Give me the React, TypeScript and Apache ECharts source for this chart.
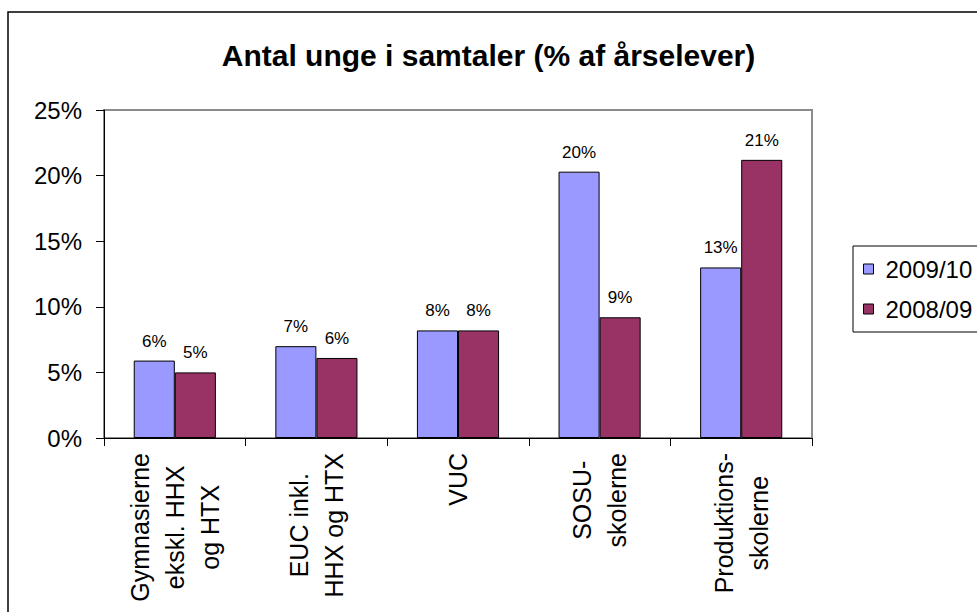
import React, { useEffect, useRef } from "react";
import * as echarts from "echarts";

const chartTitle = "Antal unge i samtaler (% af årselever)";
const categories = [
  "Gymnasierne\nekskl. HHX\nog HTX",
  "EUC inkl.\nHHX og HTX",
  "VUC",
  "SOSU-\nskolerne",
  "Produktions-\nskolerne",
];
const seriesNames = ["2009/10", "2008/09"];
const values2009 = [5.9, 7.0, 8.2, 20.3, 13.0];
const values2008 = [5.0, 6.1, 8.2, 9.2, 21.2];
const seriesColors = ["#9999FF", "#993366"];
const yMin = 0;
const yMax = 25;
const yStep = 5;

export default function App() {
  const ref = useRef<HTMLDivElement>(null);
  useEffect(() => {
    if (!ref.current) return;
    const chart = echarts.init(ref.current, null, { renderer: "svg" });
    const font = "Arial, 'Liberation Sans', sans-serif";
    const mkSeries = (name: string, data: number[], color: string) => ({
      type: "bar",
      name,
      data,
      barGap: "0%",
      barCategoryGap: "42%",
      itemStyle: { color, borderColor: "#000", borderWidth: 1 },
      label: {
        show: true,
        position: "top",
        distance: 11,
        fontSize: 17,
        fontFamily: font,
        color: "#000",
        formatter: (p: any) => Math.round(p.value) + "%",
      },
    });
    chart.setOption({
      animation: false,
      backgroundColor: "#fff",
      title: {
        text: chartTitle,
        left: "center",
        top: 35,
        textStyle: { fontFamily: font, fontWeight: "bold", fontSize: 30, color: "#000" },
      },
      grid: {
        left: 104,
        top: 110,
        right: 165,
        bottom: 174,
        show: true,
        borderColor: "#8c8c8c",
        borderWidth: 2,
        containLabel: false,
      },
      legend: {
        orient: "vertical",
        left: 858,
        top: 252,
        itemWidth: 10,
        itemHeight: 10,
        itemGap: 16,
        icon: "rect",
        itemStyle: { borderColor: "#000", borderWidth: 1 },
        textStyle: { fontFamily: font, fontSize: 24, color: "#000", padding: [0, 0, 0, 7] },
        data: seriesNames,
      },
      xAxis: {
        type: "category",
        data: categories,
        axisLine: { lineStyle: { color: "#000", width: 1 } },
        axisTick: { show: true, length: 8, lineStyle: { color: "#000" } },
        axisLabel: {
          rotate: 90,
          margin: 15,
          interval: 0,
          formatter: (v: string) => v.split("\n").map((s) => `{c|${s}}`).join("\n"),
          rich: {
            c: { align: "center", fontSize: 25, lineHeight: 35, fontFamily: font, color: "#000" },
          },
        },
      },
      yAxis: {
        type: "value",
        min: yMin,
        max: yMax,
        interval: yStep,
        axisLine: { show: true, lineStyle: { color: "#000", width: 1 } },
        axisTick: { show: true, length: 8, lineStyle: { color: "#000" } },
        splitLine: { show: false },
        axisLabel: { formatter: "{value}%", fontSize: 24, fontFamily: font, color: "#000", margin: 22 },
      },
      series: [
        mkSeries(seriesNames[0], values2009, seriesColors[0]),
        mkSeries(seriesNames[1], values2008, seriesColors[1]),
      ],
      graphic: [
        {
          type: "rect",
          silent: true,
          shape: { x: 8, y: 12, width: 1200, height: 1000 },
          style: { fill: "none", stroke: "#000", lineWidth: 1.5 },
        },
        {
          type: "rect",
          silent: true,
          shape: { x: 853, y: 246, width: 300, height: 86 },
          style: { fill: "none", stroke: "#000", lineWidth: 1 },
        },
      ],
    });
    return () => chart.dispose();
  }, []);
  return <div ref={ref} style={{ position: "fixed", left: 0, top: 0, width: 977, height: 612 }} />;
}
